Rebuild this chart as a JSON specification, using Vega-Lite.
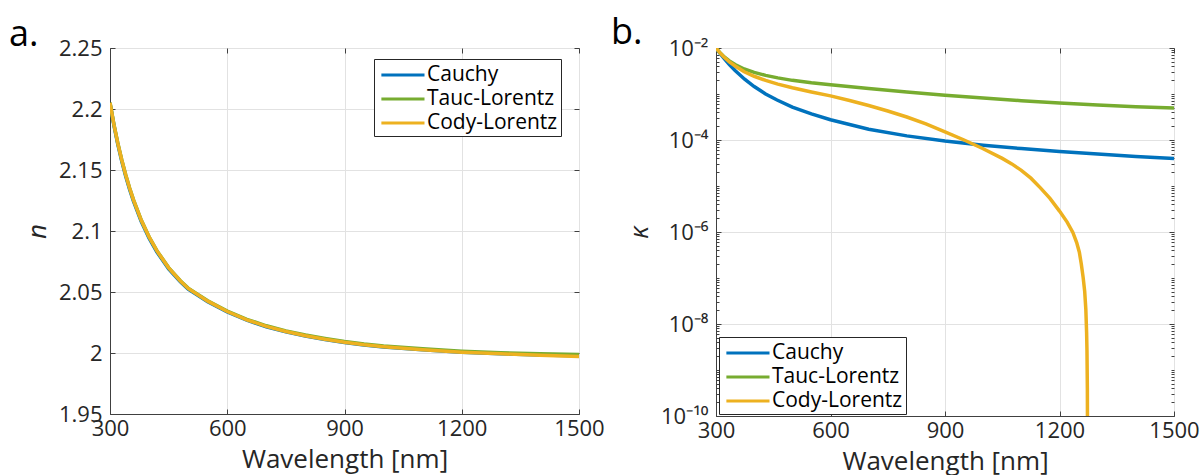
{
  "$schema": "https://vega.github.io/schema/vega-lite/v6.json",
  "padding": {"left": 8, "top": 14, "right": 0, "bottom": 0},
  "background": "white",
  "spacing": 137,
  "bounds": "flush",
  "config": {
    "font": "Open Sans",
    "view": {"stroke": "#404040", "strokeWidth": 1},
    "axis": {
      "labelFont": "Open Sans", "labelFontSize": 22, "labelColor": "#262626",
      "titleFont": "Open Sans", "titleFontSize": 26, "titleFontWeight": "normal", "titleColor": "#262626",
      "gridColor": "#e2e2e2", "gridWidth": 1, "domainColor": "#404040", "tickColor": "#404040",
      "tickSize": -5, "labelFlush": false, "labelOverlap": false
    },
    "axisX": {"labelPadding": 9, "titlePadding": 7},
    "axisY": {"labelPadding": 13, "titlePadding": 8},
    "legend": {
      "orient": "none", "labelFont": "Open Sans", "labelFontSize": 21, "labelColor": "#000000",
      "symbolType": "M-0.75,0H3", "symbolStrokeWidth": 3, "symbolSize": 529, "symbolFillColor": "transparent",
      "strokeColor": "#262626", "fillColor": "white", "padding": 3, "rowPadding": 1,
      "labelOffset": 24, "cornerRadius": 0, "title": null,
      "labelExpr": "datum.label + '\u2002'"
    },
    "title": {"font": "Open Sans", "fontSize": 36, "fontWeight": "normal", "color": "#000000", "anchor": "start", "frame": "group", "baseline": "alphabetic", "offset": 0}
  },
  "resolve": {"scale": {"color": "independent"}, "legend": {"color": "independent"}},
  "datasets": {
    "a": [
      {"wavelength": 300, "value": 2.2048, "model": "Cauchy"},
      {"wavelength": 310, "value": 2.1866, "model": "Cauchy"},
      {"wavelength": 320, "value": 2.1710, "model": "Cauchy"},
      {"wavelength": 330, "value": 2.1573, "model": "Cauchy"},
      {"wavelength": 340, "value": 2.1451, "model": "Cauchy"},
      {"wavelength": 350, "value": 2.1342, "model": "Cauchy"},
      {"wavelength": 360, "value": 2.1245, "model": "Cauchy"},
      {"wavelength": 380, "value": 2.1078, "model": "Cauchy"},
      {"wavelength": 400, "value": 2.0941, "model": "Cauchy"},
      {"wavelength": 420, "value": 2.0828, "model": "Cauchy"},
      {"wavelength": 450, "value": 2.0690, "model": "Cauchy"},
      {"wavelength": 480, "value": 2.0584, "model": "Cauchy"},
      {"wavelength": 500, "value": 2.0524, "model": "Cauchy"},
      {"wavelength": 550, "value": 2.0420, "model": "Cauchy"},
      {"wavelength": 600, "value": 2.0337, "model": "Cauchy"},
      {"wavelength": 650, "value": 2.0269, "model": "Cauchy"},
      {"wavelength": 700, "value": 2.0215, "model": "Cauchy"},
      {"wavelength": 750, "value": 2.0173, "model": "Cauchy"},
      {"wavelength": 800, "value": 2.0139, "model": "Cauchy"},
      {"wavelength": 850, "value": 2.0110, "model": "Cauchy"},
      {"wavelength": 900, "value": 2.0085, "model": "Cauchy"},
      {"wavelength": 950, "value": 2.0066, "model": "Cauchy"},
      {"wavelength": 1000, "value": 2.0050, "model": "Cauchy"},
      {"wavelength": 1100, "value": 2.0026, "model": "Cauchy"},
      {"wavelength": 1200, "value": 2.0007, "model": "Cauchy"},
      {"wavelength": 1300, "value": 1.9994, "model": "Cauchy"},
      {"wavelength": 1400, "value": 1.9984, "model": "Cauchy"},
      {"wavelength": 1500, "value": 1.9977, "model": "Cauchy"},
      {"wavelength": 300, "value": 2.2052, "model": "Tauc-Lorentz"},
      {"wavelength": 310, "value": 2.1875, "model": "Tauc-Lorentz"},
      {"wavelength": 320, "value": 2.1721, "model": "Tauc-Lorentz"},
      {"wavelength": 330, "value": 2.1585, "model": "Tauc-Lorentz"},
      {"wavelength": 340, "value": 2.1463, "model": "Tauc-Lorentz"},
      {"wavelength": 350, "value": 2.1354, "model": "Tauc-Lorentz"},
      {"wavelength": 360, "value": 2.1257, "model": "Tauc-Lorentz"},
      {"wavelength": 380, "value": 2.1090, "model": "Tauc-Lorentz"},
      {"wavelength": 400, "value": 2.0953, "model": "Tauc-Lorentz"},
      {"wavelength": 420, "value": 2.0839, "model": "Tauc-Lorentz"},
      {"wavelength": 450, "value": 2.0700, "model": "Tauc-Lorentz"},
      {"wavelength": 480, "value": 2.0593, "model": "Tauc-Lorentz"},
      {"wavelength": 500, "value": 2.0532, "model": "Tauc-Lorentz"},
      {"wavelength": 550, "value": 2.0428, "model": "Tauc-Lorentz"},
      {"wavelength": 600, "value": 2.0344, "model": "Tauc-Lorentz"},
      {"wavelength": 650, "value": 2.0276, "model": "Tauc-Lorentz"},
      {"wavelength": 700, "value": 2.0223, "model": "Tauc-Lorentz"},
      {"wavelength": 750, "value": 2.0181, "model": "Tauc-Lorentz"},
      {"wavelength": 800, "value": 2.0147, "model": "Tauc-Lorentz"},
      {"wavelength": 850, "value": 2.0119, "model": "Tauc-Lorentz"},
      {"wavelength": 900, "value": 2.0094, "model": "Tauc-Lorentz"},
      {"wavelength": 950, "value": 2.0074, "model": "Tauc-Lorentz"},
      {"wavelength": 1000, "value": 2.0058, "model": "Tauc-Lorentz"},
      {"wavelength": 1100, "value": 2.0034, "model": "Tauc-Lorentz"},
      {"wavelength": 1200, "value": 2.0015, "model": "Tauc-Lorentz"},
      {"wavelength": 1300, "value": 2.0002, "model": "Tauc-Lorentz"},
      {"wavelength": 1400, "value": 1.9993, "model": "Tauc-Lorentz"},
      {"wavelength": 1500, "value": 1.9987, "model": "Tauc-Lorentz"},
      {"wavelength": 300, "value": 2.2050, "model": "Cody-Lorentz"},
      {"wavelength": 310, "value": 2.1873, "model": "Cody-Lorentz"},
      {"wavelength": 320, "value": 2.1719, "model": "Cody-Lorentz"},
      {"wavelength": 330, "value": 2.1583, "model": "Cody-Lorentz"},
      {"wavelength": 340, "value": 2.1461, "model": "Cody-Lorentz"},
      {"wavelength": 350, "value": 2.1352, "model": "Cody-Lorentz"},
      {"wavelength": 360, "value": 2.1255, "model": "Cody-Lorentz"},
      {"wavelength": 380, "value": 2.1088, "model": "Cody-Lorentz"},
      {"wavelength": 400, "value": 2.0951, "model": "Cody-Lorentz"},
      {"wavelength": 420, "value": 2.0837, "model": "Cody-Lorentz"},
      {"wavelength": 450, "value": 2.0698, "model": "Cody-Lorentz"},
      {"wavelength": 480, "value": 2.0590, "model": "Cody-Lorentz"},
      {"wavelength": 500, "value": 2.0529, "model": "Cody-Lorentz"},
      {"wavelength": 550, "value": 2.0425, "model": "Cody-Lorentz"},
      {"wavelength": 600, "value": 2.0340, "model": "Cody-Lorentz"},
      {"wavelength": 650, "value": 2.0272, "model": "Cody-Lorentz"},
      {"wavelength": 700, "value": 2.0218, "model": "Cody-Lorentz"},
      {"wavelength": 750, "value": 2.0176, "model": "Cody-Lorentz"},
      {"wavelength": 800, "value": 2.0142, "model": "Cody-Lorentz"},
      {"wavelength": 850, "value": 2.0113, "model": "Cody-Lorentz"},
      {"wavelength": 900, "value": 2.0088, "model": "Cody-Lorentz"},
      {"wavelength": 950, "value": 2.0068, "model": "Cody-Lorentz"},
      {"wavelength": 1000, "value": 2.0052, "model": "Cody-Lorentz"},
      {"wavelength": 1100, "value": 2.0027, "model": "Cody-Lorentz"},
      {"wavelength": 1200, "value": 2.0007, "model": "Cody-Lorentz"},
      {"wavelength": 1300, "value": 1.9993, "model": "Cody-Lorentz"},
      {"wavelength": 1400, "value": 1.9981, "model": "Cody-Lorentz"},
      {"wavelength": 1500, "value": 1.9972, "model": "Cody-Lorentz"}
    ],
    "b": [
      {"wavelength": 300, "value": 1.0e-2, "model": "Cauchy"},
      {"wavelength": 310, "value": 7.71e-3, "model": "Cauchy"},
      {"wavelength": 320, "value": 6.06e-3, "model": "Cauchy"},
      {"wavelength": 335, "value": 4.36e-3, "model": "Cauchy"},
      {"wavelength": 350, "value": 3.24e-3, "model": "Cauchy"},
      {"wavelength": 375, "value": 2.10e-3, "model": "Cauchy"},
      {"wavelength": 400, "value": 1.45e-3, "model": "Cauchy"},
      {"wavelength": 430, "value": 1.0e-3, "model": "Cauchy"},
      {"wavelength": 460, "value": 7.4e-4, "model": "Cauchy"},
      {"wavelength": 500, "value": 5.2e-4, "model": "Cauchy"},
      {"wavelength": 550, "value": 3.7e-4, "model": "Cauchy"},
      {"wavelength": 600, "value": 2.75e-4, "model": "Cauchy"},
      {"wavelength": 700, "value": 1.72e-4, "model": "Cauchy"},
      {"wavelength": 800, "value": 1.23e-4, "model": "Cauchy"},
      {"wavelength": 900, "value": 9.5e-5, "model": "Cauchy"},
      {"wavelength": 1000, "value": 7.7e-5, "model": "Cauchy"},
      {"wavelength": 1100, "value": 6.5e-5, "model": "Cauchy"},
      {"wavelength": 1200, "value": 5.6e-5, "model": "Cauchy"},
      {"wavelength": 1300, "value": 4.95e-5, "model": "Cauchy"},
      {"wavelength": 1400, "value": 4.4e-5, "model": "Cauchy"},
      {"wavelength": 1500, "value": 3.95e-5, "model": "Cauchy"},
      {"wavelength": 300, "value": 1.0e-2, "model": "Tauc-Lorentz"},
      {"wavelength": 310, "value": 7.94e-3, "model": "Tauc-Lorentz"},
      {"wavelength": 320, "value": 6.61e-3, "model": "Tauc-Lorentz"},
      {"wavelength": 335, "value": 5.25e-3, "model": "Tauc-Lorentz"},
      {"wavelength": 350, "value": 4.37e-3, "model": "Tauc-Lorentz"},
      {"wavelength": 374, "value": 3.50e-3, "model": "Tauc-Lorentz"},
      {"wavelength": 400, "value": 2.95e-3, "model": "Tauc-Lorentz"},
      {"wavelength": 430, "value": 2.54e-3, "model": "Tauc-Lorentz"},
      {"wavelength": 462, "value": 2.24e-3, "model": "Tauc-Lorentz"},
      {"wavelength": 500, "value": 1.98e-3, "model": "Tauc-Lorentz"},
      {"wavelength": 550, "value": 1.75e-3, "model": "Tauc-Lorentz"},
      {"wavelength": 600, "value": 1.585e-3, "model": "Tauc-Lorentz"},
      {"wavelength": 700, "value": 1.318e-3, "model": "Tauc-Lorentz"},
      {"wavelength": 800, "value": 1.109e-3, "model": "Tauc-Lorentz"},
      {"wavelength": 900, "value": 9.44e-4, "model": "Tauc-Lorentz"},
      {"wavelength": 1000, "value": 8.17e-4, "model": "Tauc-Lorentz"},
      {"wavelength": 1100, "value": 7.16e-4, "model": "Tauc-Lorentz"},
      {"wavelength": 1200, "value": 6.35e-4, "model": "Tauc-Lorentz"},
      {"wavelength": 1300, "value": 5.75e-4, "model": "Tauc-Lorentz"},
      {"wavelength": 1400, "value": 5.31e-4, "model": "Tauc-Lorentz"},
      {"wavelength": 1500, "value": 4.95e-4, "model": "Tauc-Lorentz"},
      {"wavelength": 300, "value": 1.0e-2, "model": "Cody-Lorentz"},
      {"wavelength": 310, "value": 7.94e-3, "model": "Cody-Lorentz"},
      {"wavelength": 320, "value": 6.46e-3, "model": "Cody-Lorentz"},
      {"wavelength": 335, "value": 5.01e-3, "model": "Cody-Lorentz"},
      {"wavelength": 350, "value": 4.07e-3, "model": "Cody-Lorentz"},
      {"wavelength": 374, "value": 3.05e-3, "model": "Cody-Lorentz"},
      {"wavelength": 400, "value": 2.43e-3, "model": "Cody-Lorentz"},
      {"wavelength": 430, "value": 1.97e-3, "model": "Cody-Lorentz"},
      {"wavelength": 462, "value": 1.64e-3, "model": "Cody-Lorentz"},
      {"wavelength": 500, "value": 1.365e-3, "model": "Cody-Lorentz"},
      {"wavelength": 550, "value": 1.109e-3, "model": "Cody-Lorentz"},
      {"wavelength": 600, "value": 9.12e-4, "model": "Cody-Lorentz"},
      {"wavelength": 650, "value": 7.24e-4, "model": "Cody-Lorentz"},
      {"wavelength": 700, "value": 5.62e-4, "model": "Cody-Lorentz"},
      {"wavelength": 750, "value": 4.27e-4, "model": "Cody-Lorentz"},
      {"wavelength": 800, "value": 3.16e-4, "model": "Cody-Lorentz"},
      {"wavelength": 850, "value": 2.24e-4, "model": "Cody-Lorentz"},
      {"wavelength": 900, "value": 1.51e-4, "model": "Cody-Lorentz"},
      {"wavelength": 950, "value": 1.0e-4, "model": "Cody-Lorentz"},
      {"wavelength": 1000, "value": 6.46e-5, "model": "Cody-Lorentz"},
      {"wavelength": 1050, "value": 3.98e-5, "model": "Cody-Lorentz"},
      {"wavelength": 1075, "value": 3.02e-5, "model": "Cody-Lorentz"},
      {"wavelength": 1100, "value": 2.19e-5, "model": "Cody-Lorentz"},
      {"wavelength": 1125, "value": 1.48e-5, "model": "Cody-Lorentz"},
      {"wavelength": 1150, "value": 9.12e-6, "model": "Cody-Lorentz"},
      {"wavelength": 1175, "value": 5.37e-6, "model": "Cody-Lorentz"},
      {"wavelength": 1200, "value": 2.85e-6, "model": "Cody-Lorentz"},
      {"wavelength": 1220, "value": 1.64e-6, "model": "Cody-Lorentz"},
      {"wavelength": 1235, "value": 9.77e-7, "model": "Cody-Lorentz"},
      {"wavelength": 1245, "value": 5.89e-7, "model": "Cody-Lorentz"},
      {"wavelength": 1252, "value": 3.63e-7, "model": "Cody-Lorentz"},
      {"wavelength": 1257, "value": 2.04e-7, "model": "Cody-Lorentz"},
      {"wavelength": 1262, "value": 1.02e-7, "model": "Cody-Lorentz"},
      {"wavelength": 1266, "value": 5.13e-8, "model": "Cody-Lorentz"},
      {"wavelength": 1269, "value": 2.09e-8, "model": "Cody-Lorentz"},
      {"wavelength": 1271, "value": 6.61e-9, "model": "Cody-Lorentz"},
      {"wavelength": 1272, "value": 2.63e-9, "model": "Cody-Lorentz"},
      {"wavelength": 1273, "value": 3.98e-10, "model": "Cody-Lorentz"},
      {"wavelength": 1274, "value": 1.0e-12, "model": "Cody-Lorentz"}
    ]
  },
  "hconcat": [
    {
      "width": 469,
      "height": 366,
      "title": {"text": "a.", "dx": -101, "dy": 21},
      "data": {"name": "a"},
      "layer": [
        {
          "mark": {"type": "line", "strokeWidth": 3.5, "clip": true},
          "encoding": {
            "x": {
              "field": "wavelength", "type": "quantitative",
              "scale": {"domain": [300, 1500], "nice": false},
              "axis": {"values": [300, 600, 900, 1200, 1500], "format": "d", "title": "Wavelength [nm]"}
            },
            "y": {
              "field": "value", "type": "quantitative",
              "scale": {"domain": [1.95, 2.25], "nice": false, "zero": false},
              "axis": {"values": [1.95, 2, 2.05, 2.1, 2.15, 2.2, 2.25], "format": "~g", "title": "n", "titleFontStyle": "italic"}
            },
            "color": {
              "field": "model", "type": "nominal",
              "scale": {"domain": ["Cauchy", "Tauc-Lorentz", "Cody-Lorentz"], "range": ["#0072BD", "#77AC30", "#EDB120"]},
              "legend": {"legendX": 264, "legendY": 11}
            }
          }
        },
        {
          "mark": {"type": "line", "opacity": 0, "clip": true},
          "encoding": {
            "x": {"field": "wavelength", "type": "quantitative",
              "axis": {"orient": "top", "values": [300, 600, 900, 1200, 1500], "labels": false, "title": null, "grid": false, "domain": false}},
            "y": {"field": "value", "type": "quantitative",
              "axis": {"orient": "right", "values": [1.95, 2, 2.05, 2.1, 2.15, 2.2, 2.25], "labels": false, "title": null, "grid": false, "domain": false}},
            "detail": {"field": "model"}
          }
        }
      ],
      "resolve": {"axis": {"x": "independent", "y": "independent"}}
    },
    {
      "width": 458,
      "height": 368,
      "title": {"text": "b.", "dx": -105, "dy": 19},
      "data": {"name": "b"},
      "layer": [
        {
          "mark": {"type": "line", "strokeWidth": 3.5, "clip": true},
          "encoding": {
            "x": {
              "field": "wavelength", "type": "quantitative",
              "scale": {"domain": [300, 1500], "nice": false},
              "axis": {"values": [300, 600, 900, 1200, 1500], "format": "d", "title": "Wavelength [nm]"}
            },
            "y": {
              "field": "value", "type": "quantitative",
              "scale": {"type": "log", "domain": [1e-10, 1e-2], "nice": false},
              "axis": {
                "values": [1e-10, 2e-10, 3e-10, 4e-10, 5e-10, 6e-10, 7e-10, 8e-10, 9e-10, 1e-9, 2e-9, 3e-9, 4e-9, 5e-9, 6e-9, 7e-9, 8e-9, 9e-9, 1e-8, 2e-8, 3e-8, 4e-8, 5e-8, 6e-8, 7e-8, 8e-8, 9e-8, 1e-7, 2e-7, 3e-7, 4e-7, 5e-7, 6e-7, 7e-7, 8e-7, 9e-7, 1e-6, 2e-6, 3e-6, 4e-6, 5e-6, 6e-6, 7e-6, 8e-6, 9e-6, 1e-5, 2e-5, 3e-5, 4e-5, 5e-5, 6e-5, 7e-5, 8e-5, 9e-5, 1e-4, 2e-4, 3e-4, 4e-4, 5e-4, 6e-4, 7e-4, 8e-4, 9e-4, 1e-3, 2e-3, 3e-3, 4e-3, 5e-3, 6e-3, 7e-3, 8e-3, 9e-3, 1e-2],
                "labelExpr": "datum.value == 1e-10 ? '10⁻¹⁰' : datum.value == 1e-8 ? '10⁻⁸' : datum.value == 1e-6 ? '10⁻⁶' : datum.value == 1e-4 ? '10⁻⁴' : datum.value == 1e-2 ? '10⁻²' : ''",
                "gridOpacity": {"condition": {"test": "indexof([1e-10, 1e-8, 1e-6, 1e-4, 1e-2], datum.value) >= 0", "value": 1}, "value": 0},
                "tickSize": {"condition": {"test": "indexof([1e-10, 1e-8, 1e-6, 1e-4, 1e-2], datum.value) >= 0", "value": -5}, "value": -3},
                "title": "κ", "titleFontStyle": "italic"
              }
            },
            "color": {
              "field": "model", "type": "nominal",
              "scale": {"domain": ["Cauchy", "Tauc-Lorentz", "Cody-Lorentz"], "range": ["#0072BD", "#77AC30", "#EDB120"]},
              "legend": {"legendX": 3, "legendY": 289}
            }
          }
        },
        {
          "mark": {"type": "line", "opacity": 0, "clip": true},
          "encoding": {
            "x": {"field": "wavelength", "type": "quantitative",
              "axis": {"orient": "top", "values": [300, 600, 900, 1200, 1500], "labels": false, "title": null, "grid": false, "domain": false}},
            "y": {"field": "value", "type": "quantitative",
              "axis": {"orient": "right",
                "values": [1e-10, 2e-10, 3e-10, 4e-10, 5e-10, 6e-10, 7e-10, 8e-10, 9e-10, 1e-9, 2e-9, 3e-9, 4e-9, 5e-9, 6e-9, 7e-9, 8e-9, 9e-9, 1e-8, 2e-8, 3e-8, 4e-8, 5e-8, 6e-8, 7e-8, 8e-8, 9e-8, 1e-7, 2e-7, 3e-7, 4e-7, 5e-7, 6e-7, 7e-7, 8e-7, 9e-7, 1e-6, 2e-6, 3e-6, 4e-6, 5e-6, 6e-6, 7e-6, 8e-6, 9e-6, 1e-5, 2e-5, 3e-5, 4e-5, 5e-5, 6e-5, 7e-5, 8e-5, 9e-5, 1e-4, 2e-4, 3e-4, 4e-4, 5e-4, 6e-4, 7e-4, 8e-4, 9e-4, 1e-3, 2e-3, 3e-3, 4e-3, 5e-3, 6e-3, 7e-3, 8e-3, 9e-3, 1e-2],
                "tickSize": {"condition": {"test": "indexof([1e-10, 1e-8, 1e-6, 1e-4, 1e-2], datum.value) >= 0", "value": -5}, "value": -3},
                "labels": false, "title": null, "grid": false, "domain": false}},
            "detail": {"field": "model"}
          }
        }
      ],
      "resolve": {"axis": {"x": "independent", "y": "independent"}}
    }
  ]
}
